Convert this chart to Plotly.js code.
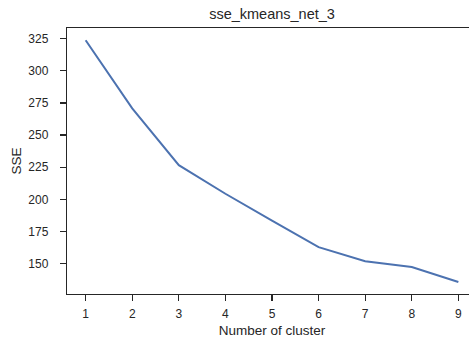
<!DOCTYPE html>
<html>
<head>
<meta charset="utf-8">
<script src="https://cdn.plot.ly/plotly-3.0.1.min.js"></script>
<style>
  html, body { margin: 0; padding: 0; overflow: hidden; background: #ffffff; }
  #chart { width: 480px; height: 340px; }
</style>
</head>
<body>
<div id="chart"></div>
<script>
// SSE of k-means for each number of clusters
const clusters = [1, 2, 3, 4, 5, 6, 7, 8, 9];
const sse = [323.7, 270.7, 226.6, 204.4, 183.6, 162.9, 151.9, 147.4, 135.8];
const yTicks = [150, 175, 200, 225, 250, 275, 300, 325];

const axisColor = '#262626';
const family = 'Liberation Sans, Arial, sans-serif';
const textColor = '#262626';

const trace = {
  x: clusters,
  y: sse,
  type: 'scatter',
  mode: 'lines',
  line: { color: '#4c72b0', width: 2 },
  hoverinfo: 'x+y'
};

const layout = {
  width: 480,
  height: 340,
  margin: { l: 67, r: 3, t: 28, b: 46 },
  paper_bgcolor: '#ffffff',
  plot_bgcolor: '#ffffff',
  font: { family: family, size: 12, color: textColor },
  showlegend: false,
  title: {
    text: 'sse_kmeans_net_3',
    font: { family: family, size: 14.5, color: textColor },
    x: 0.5, xref: 'paper', xanchor: 'center',
    y: 0.958, yref: 'container', yanchor: 'middle'
  },
  xaxis: {
    range: [0.6, 9.4],
    tickvals: clusters,
    ticks: 'outside', ticklen: 6, tickwidth: 1.25, tickcolor: axisColor,
    ticklabelstandoff: 2,
    showline: true, linecolor: axisColor, linewidth: 1.25, mirror: true,
    showgrid: false, zeroline: false,
    tickfont: { family: family, size: 12, color: textColor },
    title: { text: 'Number of cluster', font: { family: family, size: 13.5, color: textColor }, standoff: 6 }
  },
  yaxis: {
    range: [126.5, 333.2],
    tickvals: yTicks,
    ticks: 'outside', ticklen: 6, tickwidth: 1.25, tickcolor: axisColor,
    ticklabelstandoff: 9,
    showline: true, linecolor: axisColor, linewidth: 1.25, mirror: true,
    showgrid: false, zeroline: false,
    tickfont: { family: family, size: 12, color: textColor },
    title: { text: 'SSE', font: { family: family, size: 13.5, color: textColor }, standoff: 3 }
  }
};

Plotly.newPlot('chart', [trace], layout, { displayModeBar: false, staticPlot: true });
</script>
</body>
</html>
